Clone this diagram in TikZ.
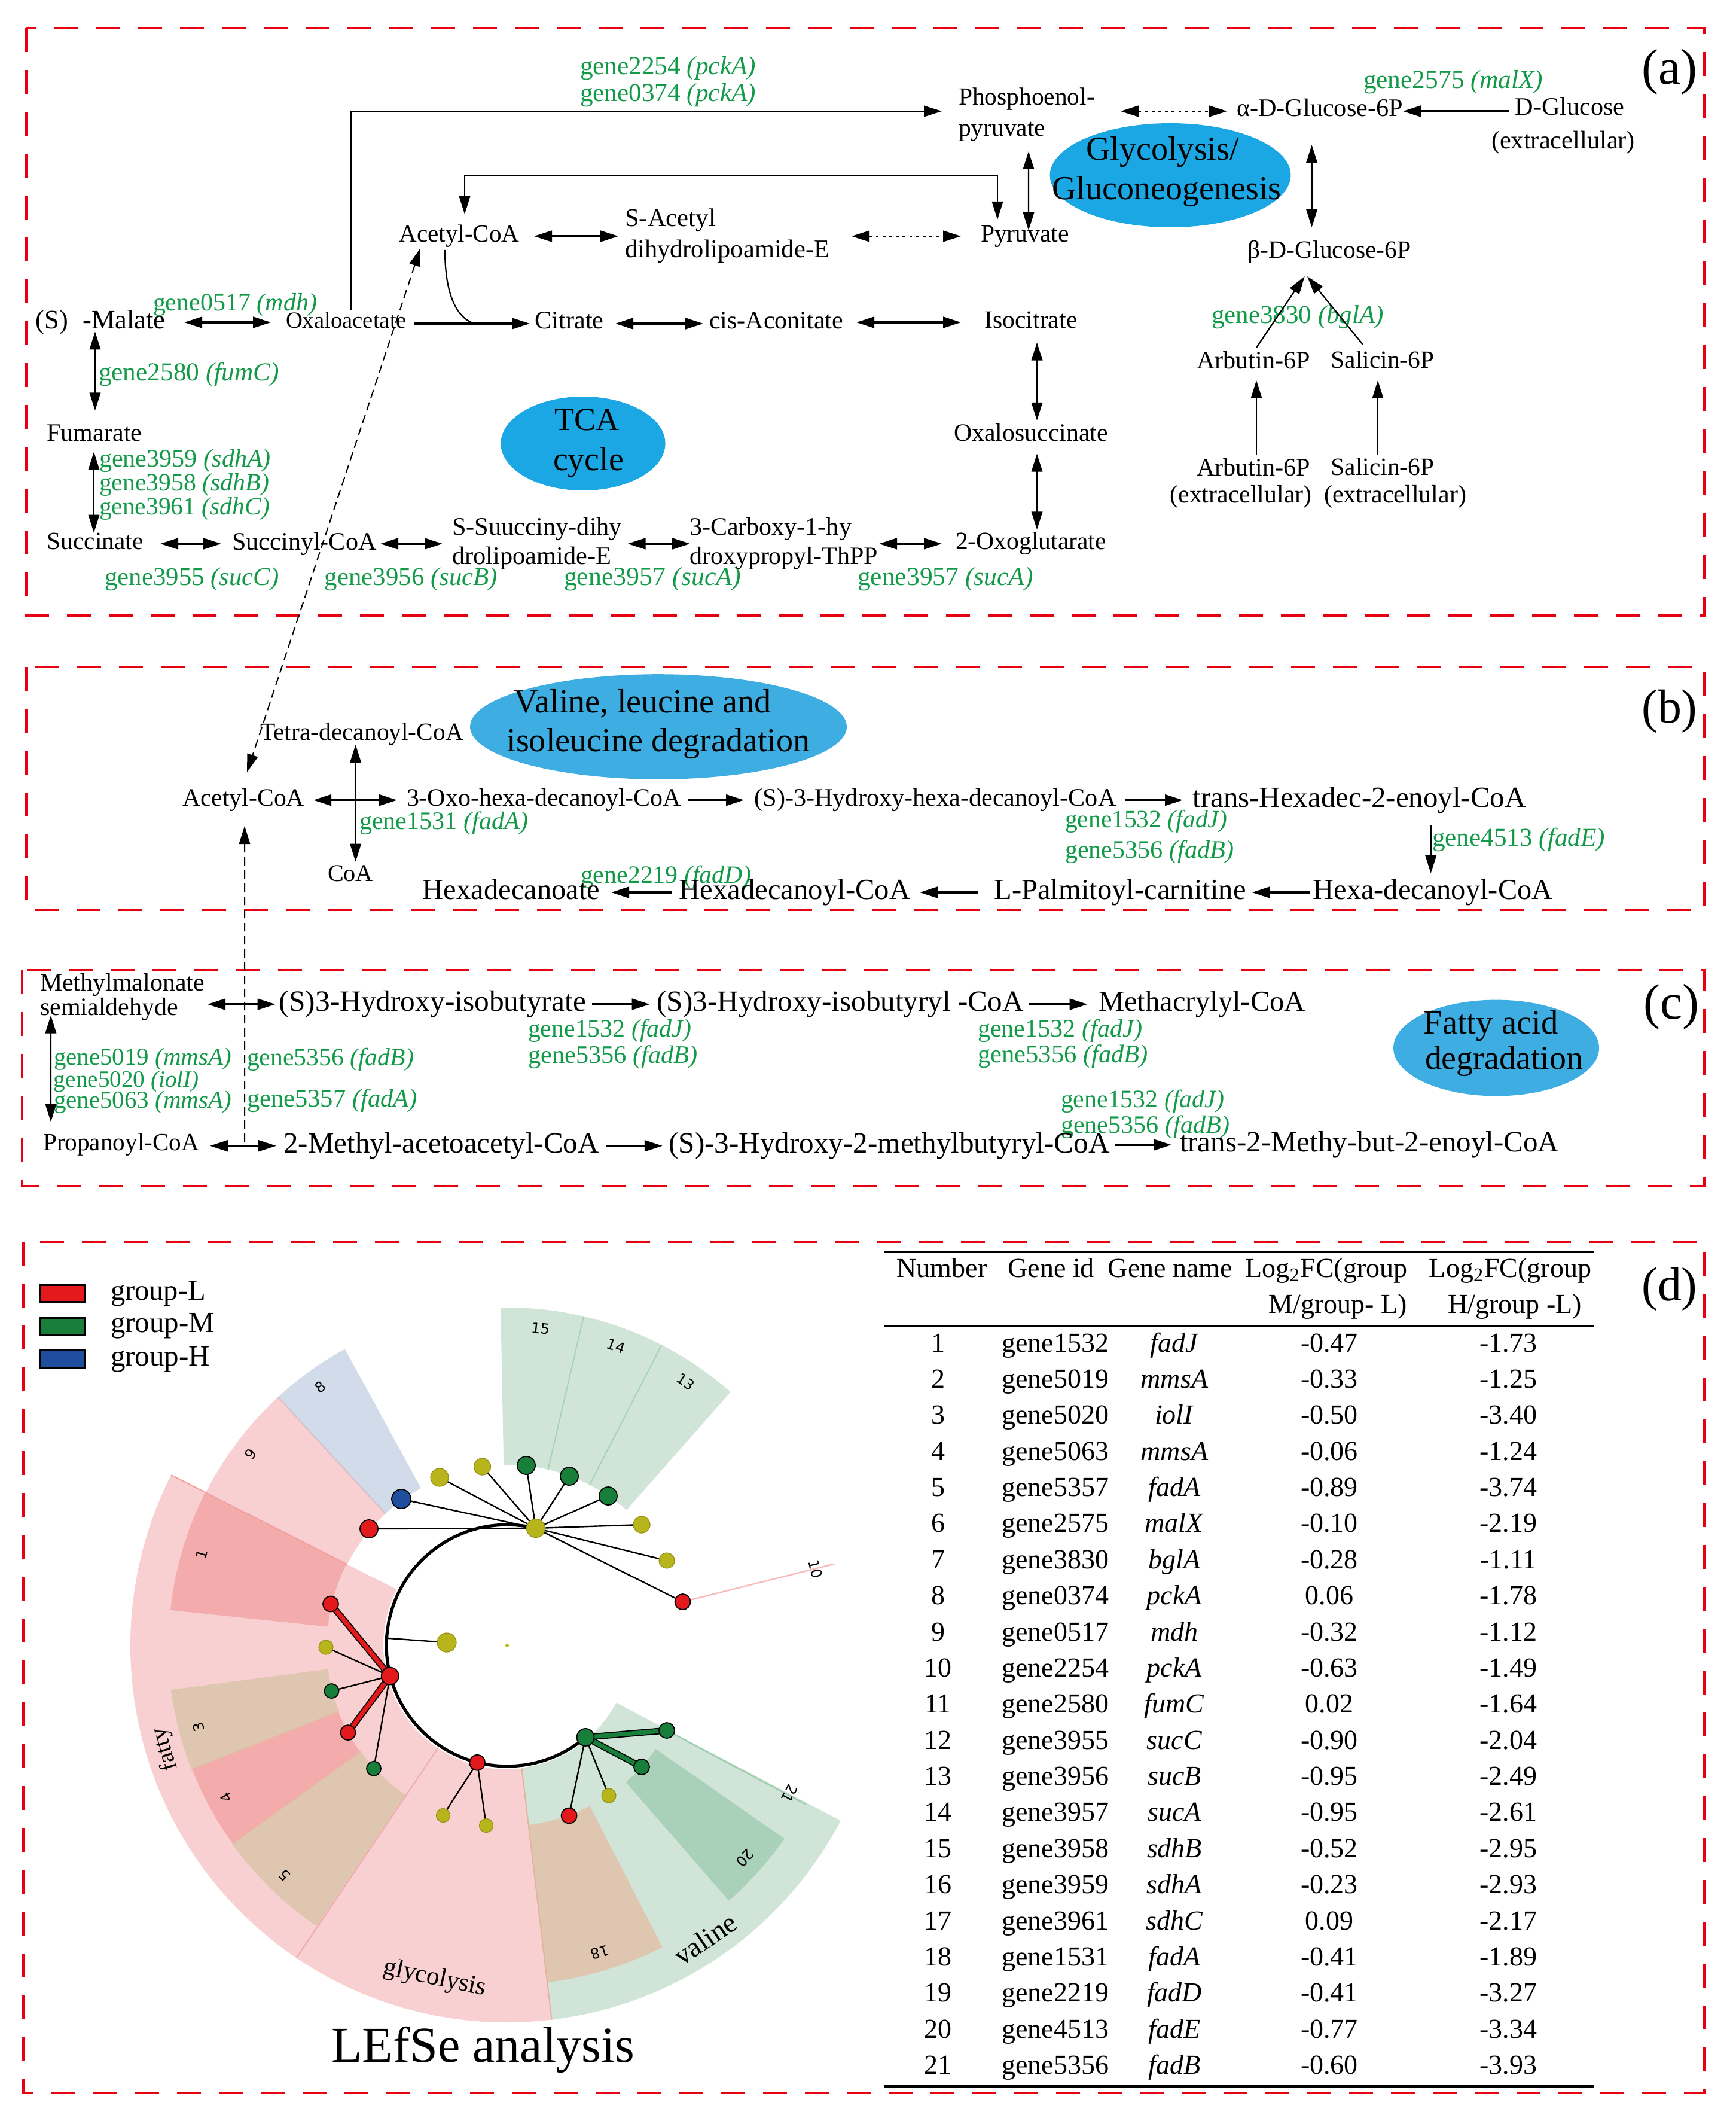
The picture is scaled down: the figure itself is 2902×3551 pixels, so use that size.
\documentclass[tikz,border=0pt]{standalone}
\usepackage{fontspec}
\setmainfont{Liberation Serif}
\newfontfamily\dvs{DejaVu Sans}
\usepackage{graphicx}
\usetikzlibrary{arrows.meta,shapes.geometric,calc}
\pgfdeclarelayer{back}
\pgfdeclarelayer{edges}
\pgfsetlayers{back,edges,main}
\newdimen\pxu \pxu=0.25pt
\newcommand\T[2]{\resizebox{#1\pxu}{!}{\strut #2}}
\newcommand\lsect[5]{\fill[#1] (#2:#4) arc[start angle=#2,end angle=#3,radius=#4] -- (#3:#5) arc[start angle=#3,end angle=#2,radius=#5] -- cycle;}
\definecolor{bred}{HTML}{E60012}
\definecolor{ggreen}{HTML}{129A48}
\definecolor{ellA}{HTML}{1BA6E4}
\definecolor{ellB}{HTML}{3EAEE2}
\definecolor{lpink}{HTML}{F9D0D1}
\definecolor{dpink}{HTML}{F4ABAB}
\definecolor{ltan}{HTML}{DFC6B1}
\definecolor{lblue}{HTML}{D1DBEA}
\definecolor{lgreen}{HTML}{D0E5D8}
\definecolor{dgreen}{HTML}{A9D0B8}
\definecolor{nred}{HTML}{E3191C}
\definecolor{ngreen}{HTML}{177F3A}
\definecolor{nblue}{HTML}{1F4E9E}
\definecolor{nyel}{HTML}{B8B41B}
\begin{document}
\begin{tikzpicture}[x=0.25pt,y=-0.25pt,
  >={Triangle[length=7.5pt,width=4.6pt]},
  every node/.style={inner sep=0pt,outer sep=0pt},
  lft/.style={anchor=west},
  gn/.style={text=ggreen},
  thk/.style={line width=0.9pt},
  thn/.style={line width=0.55pt},
  dotl/.style={line width=0.7pt,dash pattern=on 1.2pt off 1.6pt},
  dshl/.style={line width=0.5pt,dash pattern=on 3.5pt off 2pt},
  rbox/.style={draw=bred,line width=1pt,dash pattern=on 10pt off 7.5pt},
  ell/.style={ellipse,draw=none},
  nd/.style={circle,draw=black,line width=0.45pt},
  ny/.style={circle,fill=nyel,draw=nyel!80!black,line width=0.3pt},
  num/.style={font=\dvs\fontsize{6}{7}\selectfont},
  tb/.style={font=\fontsize{11.5}{13.8}\selectfont,execute at begin node=\strut},
  ]
\useasboundingbox (0,0) rectangle (2902,3551);
% ---------- frames
\draw[rbox] (43.5,47) rectangle (2850,1029);
\draw[rbox] (43.5,1115) rectangle (2850,1521);
\draw[rbox] (37,1622) rectangle (2850,1983);
\draw[rbox] (39,2076) rectangle (2850,3499);

% ================= panel (a)
\node[gn] (pcka1) at (1117,114) {\T{294}{gene2254 \textit{(pckA)}}};
\node[gn] (pcka2) at (1117,159) {\T{294}{gene0374 \textit{(pckA)}}};
\node[gn] (malx) at (2430,137) {\T{300}{gene2575 \textit{(malX)}}};
\node[lft] (pep1) at (1603,166) {\T{228}{Phosphoenol-}};
\node[lft] (pep2) at (1603,218) {\T{145}{pyruvate}};
\node (glca) at (2207,184) {\T{278}{α-D-Glucose-6P}};
\node (dglc1) at (2625,182) {\T{183}{D-Glucose}};
\node (dglc2) at (2614,238) {\T{240}{(extracellular)}};
\node[ell,fill=ellA,minimum width=100.7pt,minimum height=43.5pt] (glyell) at (1957,293) {};
\node (gly1) at (1944,254.5) {\T{256}{Glycolysis/}};
\node (gly2) at (1951,320) {\T{383}{Gluconeogenesis}};
\node (acoa) at (768,395) {\T{201}{Acetyl-CoA}};
\node[lft] (sac1) at (1045,368) {\T{152}{S-Acetyl}};
\node[lft] (sac2) at (1045,420) {\T{342}{dihydrolipoamide-E}};
\node (pyr) at (1714,395) {\T{148}{Pyruvate}};
\node (glcb) at (2223,422) {\T{273}{β-D-Glucose-6P}};
\node (mal) at (168,539) {\T{217}{(S)\hspace{0.55em}-Malate}};
\node[gn] (mdh) at (393,509) {\T{274}{gene0517 \textit{(mdh)}}};
\node (oxa) at (579,539) {\T{202}{Oxaloacetate}};
\node (cit) at (952,539) {\T{115}{Citrate}};
\node (cis) at (1298,539) {\T{224}{cis-Aconitate}};
\node (iso) at (1724,539) {\T{155}{Isocitrate}};
\node[gn] (bgla) at (2170,530) {\T{288}{gene3830 \textit{(bglA)}}};
\node (arb) at (2096,606) {\T{190}{Arbutin-6P}};
\node (sal) at (2312,606) {\T{173}{Salicin-6P}};
\node[gn,lft] (fumc) at (165,626) {\T{302}{gene2580 \textit{(fumC)}}};
\node (fum) at (158,727) {\T{159}{Fumarate}};
\node (oxs) at (1724,727) {\T{258}{Oxalosuccinate}};
\node[ell,fill=ellA,minimum width=68.75pt,minimum height=39.25pt] (tcaell) at (975,741.5) {};
\node (tca1) at (981,706.5) {\T{108}{TCA}};
\node (tca2) at (984,773.5) {\T{118}{cycle}};
\node (arbx1) at (2096,785) {\T{190}{Arbutin-6P}};
\node (arbx2) at (2075,830) {\T{237}{(extracellular)}};
\node (salx1) at (2312,785) {\T{173}{Salicin-6P}};
\node (salx2) at (2333,830) {\T{238}{(extracellular)}};
\node[gn,lft] (sdha) at (166,770) {\T{287}{gene3959 \textit{(sdhA)}}};
\node[gn,lft] (sdhb) at (166,810) {\T{284}{gene3958 \textit{(sdhB)}}};
\node[gn,lft] (sdhc) at (166,850.5) {\T{285}{gene3961 \textit{(sdhC)}}};
\node (suc) at (159,909) {\T{161}{Succinate}};
\node (scoa) at (509,909) {\T{241}{Succinyl-CoA}};
\node[lft] (ssd1) at (756,884) {\T{284}{S-Suucciny-dihy}};
\node[lft] (ssd2) at (756,933) {\T{266}{drolipoamide-E}};
\node[lft] (cbx1) at (1153,884) {\T{271}{3-Carboxy-1-hy}};
\node[lft] (cbx2) at (1153,933) {\T{315}{droxypropyl-ThPP}};
\node (oxg) at (1724,909) {\T{252}{2-Oxoglutarate}};
\node[gn] (succ) at (321,968) {\T{291}{gene3955 \textit{(sucC)}}};
\node[gn] (sucb) at (687.5,968) {\T{289}{gene3956 \textit{(sucB)}}};
\node[gn] (suca1) at (1091,968) {\T{296}{gene3957 \textit{(sucA)}}};
\node[gn] (suca2) at (1581,968) {\T{294}{gene3957 \textit{(sucA)}}};
\node (la) at (2792,120) {\T{93}{(a)}};

\draw[thk,<->] ($(mal)+(140,0)$) -- ($(oxa)+(-126,0)$);
\draw[thk,->] ($(oxa)+(113,2)$) -- ($(cit)+(-66,2)$);
\draw[thn] ($(acoa)+(-24,23)$) .. controls ($(acoa)+(-24,90)$) and ($(acoa)+(-8,135)$) .. ($(cit)+(-159,2)$);
\draw[thk,<->] ($(cit)+(77,2)$) -- ($(cis)+(-122,2)$);
\draw[thk,<->] ($(cis)+(134,0)$) -- ($(iso)+(-117,0)$);
\draw[thk,<->] ($(acoa)+(125,0)$) -- ($(sac1)+(-87,27)$);
\draw[dotl,<->] ($(sac2)+(208,-25)$) -- ($(pyr)+(-107,0)$);
\draw[thn,->] ($(oxa)+(8,-20)$) |- ($(pep1)+(-142,20)$);
\draw[thn,<->] ($(acoa)+(9,-37)$) |- ($(pyr)+(-46,-102)$) -- ($(pyr)+(-46,-28)$);
\draw[dotl,<->] ($(pep1)+(157,20)$) -- ($(glca)+(-155,2)$);
\draw[thk,->] ($(dglc1)+(-101,4)$) -- ($(glca)+(139,2)$);
\draw[thn,<->] ($(pep2)+(44.5,35)$) -- ($(pyr)+(6,-10)$);
\draw[thn,<->] ($(glca)+(-13.4,58)$) -- ($(glcb)+(-29.4,-42)$);
\draw[thn,->] ($(arb)+(5,-25)$) -- ($(glcb)+(-41.4,40)$);
\draw[thn,->] ($(sal)+(-33,-30)$) -- ($(glcb)+(-37,40)$);
\draw[thn,->] ($(arbx1)+(5,-25)$) -- ($(arb)+(5,30)$);
\draw[thn,->] ($(salx1)+(-8,-25)$) -- ($(sal)+(-8,30)$);
\draw[thn,<->] ($(iso)+(10,33.6)$) -- ($(oxs)+(10,-24)$);
\draw[thn,<->] ($(oxs)+(10,31.7)$) -- ($(oxg)+(10,-23.7)$);
\draw[thk,<->] ($(cbx2)+(159.5,-24)$) -- ($(oxg)+(-149,0)$);
\draw[thn,<->] ($(mal)+(-9,15.5)$) -- ($(fum)+(1,-40.6)$);
\draw[thn,<->] ($(fum)+(-1,28.4)$) -- ($(suc)+(-2,-18.4)$);
\draw[thk,<->] ($(suc)+(109,0)$) -- ($(scoa)+(-139,0)$);
\draw[thk,<->] ($(scoa)+(127,0)$) -- ($(ssd1)+(-158,25)$);
\draw[thk,<->] ($(ssd1)+(151.5,25)$) -- ($(cbx1)+(-134.5,25)$);

% ================= panel (b)
\node (lb) at (2792,1189) {\T{93}{(b)}};
\node[ell,fill=ellB,minimum width=157.5pt,minimum height=43.9pt] (valell) at (1101,1215) {};
\node (val1) at (1075,1178) {\T{430}{Valine, leucine and}};
\node (val2) at (1101,1243.5) {\T{507}{isoleucine degradation}};
\node (tetra) at (605,1227.6) {\T{340}{Tetra-decanoyl-CoA}};
\node (acoab) at (407,1337.6) {\T{204}{Acetyl-CoA}};
\node (oxo) at (909.5,1337.6) {\T{459}{3-Oxo-hexa-decanoyl-CoA}};
\node (hhd) at (1564,1337.6) {\T{605}{(S)-3-Hydroxy-hexa-decanoyl-CoA}};
\node (thd) at (2273,1337.6) {\T{557}{trans-Hexadec-2-enoyl-CoA}};
\node[gn,lft] (fada1) at (601,1376) {\T{282}{gene1531 \textit{(fadA)}}};
\node[gn,lft] (fadj1) at (1781,1374) {\T{271}{gene1532 \textit{(fadJ)}}};
\node[gn,lft] (fadb1) at (1781,1424) {\T{282}{gene5356 \textit{(fadB)}}};
\node[gn,lft] (fade) at (2395,1404.5) {\T{289}{gene4513 \textit{(fadE)}}};
\node (coa) at (586,1463.5) {\T{76}{CoA}};
\node[gn] (fadd) at (1113.5,1466) {\T{285}{gene2219 \textit{(fadD)}}};
\node (hxa) at (855,1492) {\T{296}{Hexadecanoate}};
\node (hxcoa) at (1329,1492) {\T{387}{Hexadecanoyl-CoA}};
\node (lpc) at (1873,1492) {\T{421}{L-Palmitoyl-carnitine}};
\node (hdcoa) at (2396,1492) {\T{401}{Hexa-decanoyl-CoA}};

\draw[thn,<->] ($(tetra)+(-10.4,17.4)$) -- ($(coa)+(8.6,-22.9)$);
\draw[thk,<->] ($(acoab)+(117,0)$) -- ($(oxo)+(-245.5,0)$);
\draw[thk,->] ($(oxo)+(241.5,0)$) -- ($(hhd)+(-320,0)$);
\draw[thk,->] ($(hhd)+(316.6,0)$) -- ($(thd)+(-295,0)$);
\draw[thn,->] ($(thd)+(119.7,42.4)$) -- ($(hdcoa)+(-3.3,-32)$);
\draw[thk,->] ($(hdcoa)+(-205.2,0)$) -- ($(lpc)+(220.6,0)$);
\draw[thk,->] ($(lpc)+(-238,0)$) -- ($(hxcoa)+(209,0)$);
\draw[thk,->] ($(hxcoa)+(-205.5,0)$) -- ($(hxa)+(167,0)$);
\draw[dshl,<->] ($(acoa)+(-65,20)$) -- ($(acoab)+(6,-46.6)$);

% ================= panel (c)
\node (lc) at (2795,1683) {\T{93}{(c)}};
\node[lft] (mm1) at (67,1646) {\T{275}{Methylmalonate}};
\node[lft] (mm2) at (67,1687.5) {\T{231}{semialdehyde}};
\node (hib) at (723.5,1679) {\T{513}{(S)3-Hydroxy-isobutyrate}};
\node (hibc) at (1405,1679) {\T{613}{(S)3-Hydroxy-isobutyryl -CoA}};
\node (mac) at (2010,1679) {\T{346}{Methacrylyl-CoA}};
\node[gn,lft] (fadj2) at (883,1723) {\T{273}{gene1532 \textit{(fadJ)}}};
\node[gn,lft] (fadb2) at (883,1767) {\T{284}{gene5356 \textit{(fadB)}}};
\node[gn,lft] (fadj3) at (1635,1723) {\T{275}{gene1532 \textit{(fadJ)}}};
\node[gn,lft] (fadb3) at (1635,1766.5) {\T{285}{gene5356 \textit{(fadB)}}};
\node[ell,fill=ellB,minimum width=86pt,minimum height=40.2pt] (fatell) at (2502,1752) {};
\node (fat1) at (2493,1715) {\T{225}{Fatty acid}};
\node (fat2) at (2515,1773.6) {\T{264}{degradation}};
\node[gn,lft] (mmsa1) at (90,1771) {\T{297}{gene5019 \textit{(mmsA)}}};
\node[gn,lft] (ioli) at (90,1808) {\T{243}{gene5020 \textit{(iolI)}}};
\node[gn,lft] (mmsa2) at (90,1842.5) {\T{297}{gene5063 \textit{(mmsA)}}};
\node[gn,lft] (fadb4) at (413,1771) {\T{279}{gene5356 \textit{(fadB)}}};
\node[gn,lft] (fada2) at (413,1840) {\T{285}{gene5357 \textit{(fadA)}}};
\node[gn,lft] (fadj4) at (1774,1841) {\T{273}{gene1532 \textit{(fadJ)}}};
\node[gn,lft] (fadb5) at (1774,1884) {\T{282}{gene5356 \textit{(fadB)}}};
\node (prop) at (202.6,1914) {\T{261}{Propanoyl-CoA}};
\node (mea) at (738,1915.7) {\T{527}{2-Methyl-acetoacetyl-CoA}};
\node (hmb) at (1487,1915.7) {\T{737}{(S)-3-Hydroxy-2-methylbutyryl-CoA}};
\node (tmb) at (2290,1914) {\T{634}{trans-2-Methy-but-2-enoyl-CoA}};

\draw[thk,<->] ($(mm2)+(164.5,-8.5)$) -- ($(hib)+(-263,0)$);
\draw[thk,->] ($(hib)+(266,0)$) -- ($(hibc)+(-318.4,0)$);
\draw[thk,->] ($(hibc)+(315,0)$) -- ($(mac)+(-191.5,0)$);
\draw[thn,<->] ($(mm2)+(-97.5,10.1)$) -- ($(prop)+(-117.6,-38.5)$);
\draw[thk,<->] ($(prop)+(148.4,1.7)$) -- ($(mea)+(-276,0)$);
\draw[thk,->] ($(mea)+(274.6,0)$) -- ($(hmb)+(-379.2,0)$);
\draw[thk,->] ($(hmb)+(378,-1.7)$) -- ($(tmb)+(-331,0)$);
\draw[dshl,->] ($(prop)+(206.4,-5)$) -- ($(acoab)+(2,43.4)$);

% ================= panel (d): legend
\node (ld) at (2792,2155) {\T{93}{(d)}};
\node[draw=black,line width=0.8pt,fill=nred,minimum width=18.7pt,minimum height=7.1pt] (legL) at (104,2162.75) {};
\node[draw=black,line width=0.8pt,fill=ngreen,minimum width=18.7pt,minimum height=7.1pt] (legM) at (104,2217.5) {};
\node[draw=black,line width=0.8pt,fill=nblue,minimum width=18.7pt,minimum height=7.1pt] (legH) at (104,2272) {};
\node[lft] (tL) at (185,2162) {\T{159}{group-L}};
\node[lft] (tM) at (185,2216) {\T{174}{group-M}};
\node[lft] (tH) at (185,2272) {\T{166}{group-H}};
\node (lefse) at (808,3427.6) {\T{507}{LEfSe analysis}};

% ---- cladogram
\begin{scope}[shift={(848,2751)}]
\begin{pgfonlayer}{back}
 \lsect{lpink}{153.1}{276.8}{51.75pt}{157.5pt}
 \lsect{lgreen}{276.8}{332.3}{51.5pt}{157.5pt}
 \lsect{lpink}{132.7}{153.1}{75pt}{141.25pt}
 \lsect{lblue}{118.7}{132.7}{75pt}{141.25pt}
 \lsect{lgreen}{48.6}{91.1}{75.5pt}{141.25pt}
 \lsect{dpink}{153.1}{174}{75.3pt}{141.5pt}
 \lsect{ltan}{187.5}{201.5}{75.5pt}{141.75pt}
 \lsect{dpink}{201.5}{215.8}{75.8pt}{141.5pt}
 \lsect{ltan}{215.8}{235.8}{75.5pt}{141.75pt}
 \lsect{ltan}{276.8}{297.25}{75.5pt}{141.75pt}
 \lsect{dgreen}{311}{325.15}{75.7pt}{141.25pt}
 \draw[line width=0.5pt,color={rgb,255:red,166;green,211;blue,182}] (62.8:75.5pt) -- (62.8:141.25pt) (76.9:75.5pt) -- (76.9:141.25pt);
 \draw[line width=0.5pt,color={rgb,255:red,216;green,190;blue,200}] (132.7:75pt) -- (132.7:141.25pt);
 \draw[line width=0.5pt,color={rgb,255:red,242;green,160;blue,160}] (153.1:75pt) -- (153.1:157.5pt);
 \draw[line width=0.5pt,color={rgb,255:red,240;green,170;blue,170}] (236:51.75pt) -- (236:157.5pt);
 \draw[line width=0.5pt,color={rgb,255:red,225;green,180;blue,156}] (276.8:51.75pt) -- (276.8:157.5pt);
 \draw[line width=0.5pt,color={rgb,255:red,235;green,180;blue,162}] (201.5:75.5pt) -- (201.5:141.5pt) (215.8:75.5pt) -- (215.8:141.5pt);
 \draw[line width=0.6pt,color={rgb,255:red,160;green,205;blue,178}] (332:78pt) -- (332:141.25pt);
\end{pgfonlayer}
 \node[ny,minimum size=7.75pt] (hub) at (76.24:50.45pt) {};
 \node[nd,fill=nred,minimum size=7.25pt] (lred) at (194.6:50.6pt) {};
 \node[nd,fill=nred,minimum size=6.5pt] (bred) at (255.7:50.5pt) {};
 \node[nd,fill=ngreen,minimum size=7.25pt] (ghub) at (310.5:50.45pt) {};
 \coordinate (arcp) at (176.5:50.45pt);
 \coordinate (c10) at (14:141pt);
 \node[circle,fill=nyel,minimum size=1.5pt] (cdot) at (0,0) {};
 \node[num,rotate=-6] (n15) at (84:133.2pt) {15};
 \node[num,rotate=-20] (n14) at (70:133.1pt) {14};
 \node[num,rotate=-34.1] (n13) at (55.9:133.2pt) {13};
 \node[num,rotate=35.9] (n8) at (125.9:133.4pt) {8};
 \node[num,rotate=53.3] (n9) at (143.3:133.75pt) {9};
 \node[num,rotate=73.4] (n1) at (163.4:133.35pt) {1};
 \node[num,rotate=104.8] (n3) at (194.8:133.4pt) {3};
 \node[num,rotate=118.4] (n4) at (208.4:133.5pt) {4};
 \node[num,rotate=135.9] (n5) at (225.9:133.7pt) {5};
 \node[num,rotate=196.8] (n18) at (286.8:134pt) {18};
 \node[num,rotate=228.2] (n20) at (318.2:133.45pt) {20};
 \node[num,rotate=242.3] (n21) at (332.3:133.4pt) {21};
 \node[num,rotate=-76.1] (n10) at (13.9:132.9pt) {10};
 \node[rotate=106.9] (gfat) at (196.9:149.25pt) {\T{73}{fatty}};
 \node[rotate=-12.3] (ggly) at (257.7:142.5pt) {\T{174}{glycolysis}};
 \node[rotate=34] (gval) at (304:149.2pt) {\T{116}{valine}};
\end{scope}
% leaves
\node[nd,fill=nred,minimum size=7.5pt] (lf1) at (617,2556) {};
\node[nd,fill=nblue,minimum size=8pt] (lf2) at (671,2506) {};
\node[ny,minimum size=7.5pt] (lf3) at (735,2470) {};
\node[ny,minimum size=7pt] (lf4) at (806.5,2452) {};
\node[nd,fill=ngreen,minimum size=7.5pt] (lf5) at (880,2450) {};
\node[nd,fill=ngreen,minimum size=7.5pt] (lf6) at (952,2468) {};
\node[nd,fill=ngreen,minimum size=7.5pt] (lf7) at (1017,2501) {};
\node[ny,minimum size=7pt] (lf8) at (1073,2549) {};
\node[ny,minimum size=6.5pt] (lf9) at (1115,2609) {};
\node[nd,fill=nred,minimum size=6.5pt] (lf10) at (1141.5,2678) {};
\node[nd,fill=nred,minimum size=6.5pt] (lf11) at (553,2681.5) {};
\node[ny,minimum size=6pt] (lf12) at (545,2754) {};
\node[nd,fill=ngreen,minimum size=6pt] (lf13) at (554.5,2827) {};
\node[nd,fill=nred,minimum size=6.25pt] (lf14) at (582,2896.6) {};
\node[nd,fill=ngreen,minimum size=6pt] (lf15) at (625,2956.7) {};
\node[ny,minimum size=5.75pt] (lf16) at (741,3035) {};
\node[ny,minimum size=5.75pt] (lf17) at (813,3052) {};
\node[nd,fill=ngreen,minimum size=6.5pt] (lf18) at (1115,2893) {};
\node[nd,fill=ngreen,minimum size=6.5pt] (lf19) at (1073,2954) {};
\node[ny,minimum size=6pt] (lf20) at (1018,3002) {};
\node[nd,fill=nred,minimum size=6.5pt] (lf21) at (951.6,3035.5) {};
\node[ny,minimum size=8pt] (lf22) at (747,2746) {};
\begin{pgfonlayer}{edges}
 \draw[line width=1.3pt] (hub.center) arc[start angle=76.24,end angle=310.5,radius=50.45pt];
 \foreach \k in {1,...,10} {\draw[line width=0.6pt] (hub.center) -- (lf\k.center);}
 \foreach \k in {12,13,15} {\draw[line width=0.6pt] (lred.center) -- (lf\k.center);}
 \foreach \k in {11,14} {\draw[line width=2.7pt] (lred.center) -- (lf\k.center); \draw[line width=1.8pt,nred] (lred.center) -- (lf\k.center);}
 \foreach \k in {16,17} {\draw[line width=0.6pt] (bred.center) -- (lf\k.center);}
 \foreach \k in {20,21} {\draw[line width=0.6pt] (ghub.center) -- (lf\k.center);}
 \foreach \k in {18,19} {\draw[line width=2.7pt] (ghub.center) -- (lf\k.center); \draw[line width=1.8pt,ngreen] (ghub.center) -- (lf\k.center);}
 \draw[line width=0.6pt] (lf22.center) -- (arcp);
 \draw[line width=0.6pt,color={rgb,255:red,248;green,185;blue,185}] (lf10.center) -- (c10);
\end{pgfonlayer}

% ---- table
\draw[line width=1pt] (1478,2093) -- (2665,2093);
\draw[line width=0.5pt] (1478,2217.4) -- (2665,2217.4);
\draw[line width=1pt] (1478,3488) -- (2665,3488);
\node[tb] (h1) at (1575,2124.6) {Number};
\node[tb] (h2) at (1757.6,2124.6) {Gene id};
\node[tb] (h3) at (1957,2124.6) {Gene name};
\node[tb] (h4) at (2218,2124.6) {Log\textsubscript{2}FC(group};
\node[tb] (h4b) at (2237,2184) {M/group- L)};
\node[tb] (h5) at (2525.5,2124.6) {Log\textsubscript{2}FC(group};
\node[tb] (h5b) at (2533,2184) {H/group -L)};
\foreach \tn/\tgi/\tgname/\tvm/\tvh [count=\i] in {
 1/gene1532/fadJ/-0.47/-1.73, 2/gene5019/mmsA/-0.33/-1.25, 3/gene5020/iolI/-0.50/-3.40,
 4/gene5063/mmsA/-0.06/-1.24, 5/gene5357/fadA/-0.89/-3.74, 6/gene2575/malX/-0.10/-2.19,
 7/gene3830/bglA/-0.28/-1.11, 8/gene0374/pckA/0.06/-1.78, 9/gene0517/mdh/-0.32/-1.12,
 10/gene2254/pckA/-0.63/-1.49, 11/gene2580/fumC/0.02/-1.64, 12/gene3955/sucC/-0.90/-2.04,
 13/gene3956/sucB/-0.95/-2.49, 14/gene3957/sucA/-0.95/-2.61, 15/gene3958/sdhB/-0.52/-2.95,
 16/gene3959/sdhA/-0.23/-2.93, 17/gene3961/sdhC/0.09/-2.17, 18/gene1531/fadA/-0.41/-1.89,
 19/gene2219/fadD/-0.41/-3.27, 20/gene4513/fadE/-0.77/-3.34, 21/gene5356/fadB/-0.60/-3.93} {
 \pgfmathsetmacro\yy{2249+(\i-1)*60.37}
 \node[tb] (tn\i) at (1568.5,\yy) {\tn};
 \node[tb] (tgi\i) at (1764.8,\yy) {\tgi};
 \node[tb] (tgn\i) at (1964,\yy) {\textit{\tgname}};
 \node[tb] (tvm\i) at (2223,\yy) {\tvm};
 \node[tb] (tvh\i) at (2522.3,\yy) {\tvh};
}
\end{tikzpicture}
\end{document}
